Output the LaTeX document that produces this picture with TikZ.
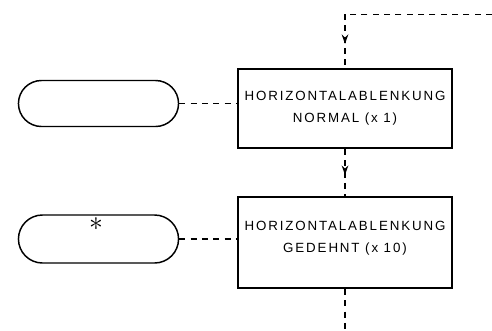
\documentclass[tikz,border=0pt]{standalone}
\usepackage{fontspec}
\newfontfamily\schildfont[LetterSpace=14]{Liberation Sans}
\usetikzlibrary{arrows.meta,shapes.misc,decorations.markings}

\tikzset{
  kasten/.style={draw, line width=1.3pt, minimum width=160.5pt, minimum height=59.25pt,
    align=center, font=\schildfont\fontsize{10}{16.5}\selectfont},
  taste/.style={draw, rounded rectangle, line width=1.1pt, minimum width=126.75pt, minimum height=34.5pt},
  strich/.style={line width=0.9pt, dash pattern=on 4.5pt off 4pt},
  pfeil/.style={strich, postaction={decorate}, decoration={markings,
    mark=at position 0.55 with {\arrow{Stealth[length=7pt,width=5pt]}}}}
}

\begin{document}
\begin{tikzpicture}[>=Stealth, x=0.75pt, y=-0.75pt]
  \useasboundingbox (0,0) rectangle (492,330);

  % Kasten
  \node[kasten] (normal) at (345,108.5) {HORIZONTALABLENKUNG\\NORMAL (x 1)};
  \node[kasten, minimum height=68.25pt, text depth=9pt] (gedehnt) at (345,242.5) {HORIZONTALABLENKUNG\\GEDEHNT (x 10)};

  % Tasten
  \node[taste] (taste1) at (98.5,103.5) {};
  \node[taste, minimum height=36pt] (taste2) at (98.5,239) {};
  \node[font=\huge] (stern) at (96,224) {$\ast$};

  % Verbindungen Tasten -- Kasten
  \draw[strich] (taste1.east) -- (taste1.east -| normal.west);
  \draw[strich] (taste2.east) -- (taste2.east -| gedehnt.west);

  % Ablauf
  \coordinate (oben) at (345,14);
  \coordinate (rechts) at (492,14);
  \coordinate (unten) at (345,330);
  \draw[strich, line width=0.7pt] (rechts) -- (oben);
  \draw[pfeil] (oben) -- (normal.north);
  \draw[pfeil] (normal.south) -- (gedehnt.north);
  \draw[strich] (gedehnt.south) -- (unten);
\end{tikzpicture}
\end{document}
